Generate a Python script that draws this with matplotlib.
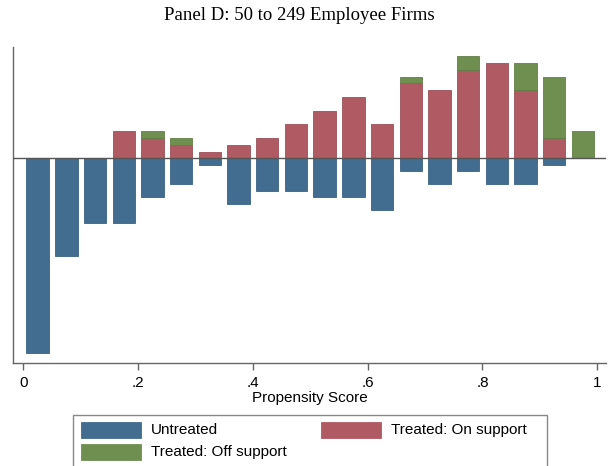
import matplotlib
matplotlib.use("Agg")
import matplotlib.pyplot as plt
from matplotlib.patches import Rectangle
import numpy as np

# propensity score bins (centres, width .05)
bin_centers = [0.025, 0.075, 0.125, 0.175, 0.225, 0.275, 0.325, 0.375, 0.425, 0.475,
               0.525, 0.575, 0.625, 0.675, 0.725, 0.775, 0.825, 0.875, 0.925, 0.975]
# firm counts per bin
untreated = [30, 15, 10, 10, 6, 4, 1, 7, 5, 5, 6, 6, 8, 2, 4, 2, 4, 4, 1, 0]
treated_on = [0, 0, 0, 4, 3, 2, 1, 2, 3, 5, 7, 9, 5, 11, 10, 13, 14, 10, 3, 0]
treated_off = [0, 0, 0, 0, 1, 1, 0, 0, 0, 0, 0, 0, 0, 1, 0, 2, 0, 4, 9, 4]

xticks = [0, 0.2, 0.4, 0.6, 0.8, 1.0]
xtick_labels = ["0", ".2", ".4", ".6", ".8", "1"]
legend_labels = ["Untreated", "Treated: On support", "Treated: Off support"]

BLUE = "#426d91"
RED = "#b05a63"
GREEN = "#6e8f50"

# psgraph plots densities: each group scaled by its own total
x = np.array(bin_centers)
n_untr = sum(untreated)
n_tr = sum(treated_on) + sum(treated_off)
untr_d = -np.array(untreated) / n_untr
on_d = np.array(treated_on) / n_tr
off_d = np.array(treated_off) / n_tr

W, H = 608, 466
fig = plt.figure(figsize=(W / 100, H / 100), dpi=100)
ax = fig.add_axes([13 / W, 1 - 363.3 / H, (606 - 13) / W, (363.3 - 46.7) / H])

bw = 0.039
m = untr_d != 0
ax.bar(x[m], untr_d[m], width=bw, color=BLUE, edgecolor="#3a6283", linewidth=0.6, zorder=2)
m = on_d > 0
ax.bar(x[m], on_d[m], width=bw, color=RED, edgecolor="#9c4f57", linewidth=0.6, zorder=2)
m = off_d > 0
ax.bar(x[m], off_d[m], width=bw, bottom=on_d[m], color=GREEN, edgecolor="#617f46", linewidth=0.6, zorder=2)
ax.axhline(0, color="#555555", linewidth=1.0, zorder=3)

ax.set_xlim(-0.0179, 1.0152)
ax.set_ylim(-0.2426, 0.1321)
ax.set_xticks(xticks)
ax.set_xticklabels(xtick_labels, fontsize=11, fontfamily="Liberation Sans")
ax.set_yticks([])
ax.tick_params(axis="x", length=5, width=1, color="#666666", pad=4)
for side in ["top", "right"]:
    ax.spines[side].set_visible(False)
for side in ["left", "bottom"]:
    ax.spines[side].set_color("#666666")
    ax.spines[side].set_linewidth(1)
ax.set_xlabel("Propensity Score", fontsize=11, fontfamily="Liberation Sans", labelpad=1)

fig.text(298.9 / W, 1 - 16 / H, "Panel D: 50 to 249 Employee Firms", ha="center", va="center",
         fontsize=13.5, fontfamily="Liberation Serif")

# legend box (Stata-style, runs off the bottom edge)
fig.add_artist(Rectangle((73.3 / W, -20 / H), (546.7 - 73.3) / W, (466 - 415 + 20) / H,
                         transform=fig.transFigure, facecolor="white", edgecolor="#888888", linewidth=1))
entries = [(legend_labels[0], BLUE, 80.7, 422), (legend_labels[1], RED, 320.7, 422),
           (legend_labels[2], GREEN, 80.7, 444.3)]
for label, col, px, py in entries:
    fig.add_artist(Rectangle((px / W, 1 - (py + 15.7) / H), 60 / W, 15.7 / H,
                             transform=fig.transFigure, facecolor=col, edgecolor=col, linewidth=0.6))
    fig.text((px + 70) / W, 1 - (py + 8) / H, label, ha="left", va="center",
             fontsize=11, fontfamily="Liberation Sans")

fig.savefig("out.png", dpi=100)
